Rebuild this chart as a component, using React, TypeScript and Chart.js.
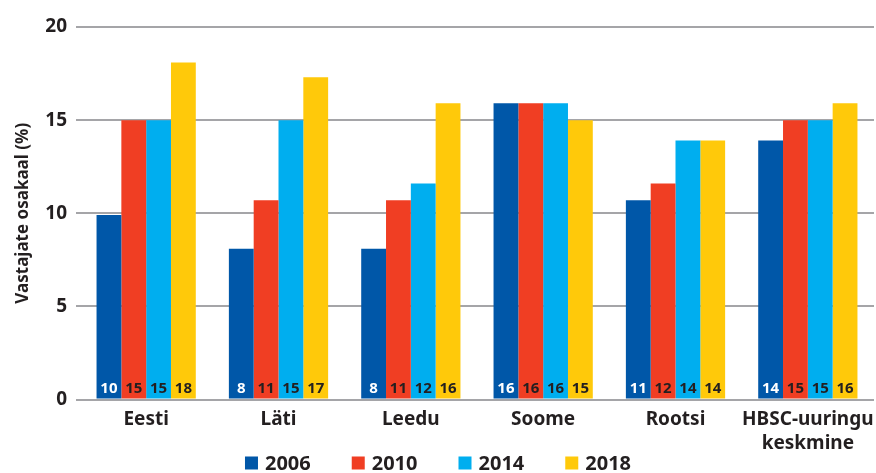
import React, { useEffect, useRef } from "react";
import { Chart, registerables } from "chart.js";

Chart.register(...registerables);

const categories: (string | string[])[] = ["Eesti", "Läti", "Leedu", "Soome", "Rootsi", ["HBSC-uuringu", "keskmine"]];
const seriesNames = ["2006", "2010", "2014", "2018"];
const values2006 = [9.9, 8.1, 8.1, 15.9, 10.7, 13.9];
const values2010 = [15, 10.7, 10.7, 15.9, 11.6, 15];
const values2014 = [15, 15, 11.6, 15.9, 13.9, 15];
const values2018 = [18.1, 17.3, 15.9, 15, 13.9, 15.9];
const labels2006 = [10, 8, 8, 16, 11, 14];
const labels2010 = [15, 11, 11, 16, 12, 15];
const labels2014 = [15, 15, 12, 16, 14, 15];
const labels2018 = [18, 17, 16, 15, 14, 16];
const colors = ["#0057A8", "#F03E23", "#00AEEF", "#FFC90A"];
const yTitle = "Vastajate osakaal (%)";

const FONT = "'Noto Sans', sans-serif";
const TEXT = "#231F20";

const barLabels = {
  id: "barLabels",
  afterDatasetsDraw(chart: any) {
    const ctx = chart.ctx;
    const allLabels = [labels2006, labels2010, labels2014, labels2018];
    ctx.save();
    ctx.font = `bold 15px ${FONT}`;
    ctx.textAlign = "center";
    ctx.textBaseline = "middle";
    chart.data.datasets.forEach((ds: any, i: number) => {
      const meta = chart.getDatasetMeta(i);
      ctx.fillStyle = i === 0 ? "#FFFFFF" : TEXT;
      meta.data.forEach((bar: any, j: number) => {
        ctx.fillText(String(allLabels[i][j]), bar.x, chart.chartArea.bottom - 11);
      });
    });
    ctx.restore();
  },
};

const bottomLegend = {
  id: "bottomLegend",
  afterDraw(chart: any) {
    const ctx = chart.ctx;
    ctx.save();
    ctx.font = `bold 20px ${FONT}`;
    ctx.textBaseline = "middle";
    const box = 13;
    const gapBox = 7;
    const gapItem = 41;
    const widths = chart.data.datasets.map((ds: any) => box + gapBox + ctx.measureText(ds.label).width);
    const total = widths.reduce((a: number, b: number) => a + b, 0) + gapItem * (widths.length - 1);
    let x = (chart.width - total) / 2;
    const yc = chart.height - 10;
    chart.data.datasets.forEach((ds: any, i: number) => {
      ctx.fillStyle = ds.backgroundColor;
      ctx.fillRect(x, yc - box / 2, box, box);
      ctx.fillStyle = TEXT;
      ctx.textAlign = "left";
      ctx.fillText(ds.label, x + box + gapBox, yc + 1);
      x += widths[i] + gapItem;
    });
    ctx.restore();
  },
};

export default function App() {
  const ref = useRef<HTMLCanvasElement | null>(null);
  useEffect(() => {
    if (!ref.current) return;
    const data = [values2006, values2010, values2014, values2018];
    const chart = new Chart(ref.current, {
      type: "bar",
      data: {
        labels: categories,
        datasets: seriesNames.map((n, i) => ({
          label: n,
          data: data[i],
          backgroundColor: colors[i],
          borderWidth: 0,
          categoryPercentage: 0.75,
          barPercentage: 1.0,
        })),
      },
      options: {
        animation: false,
        responsive: true,
        maintainAspectRatio: false,
        layout: { padding: { top: 27, right: 2, left: 0, bottom: 10 } },
        plugins: {
          tooltip: { enabled: false },
          legend: { display: false },
        },
        scales: {
          x: {
            grid: { display: false, drawTicks: false },
            border: { display: false },
            afterFit: (scale: any) => {
              scale.paddingRight = 0;
              scale.paddingLeft = 0;
            },
            ticks: {
              color: TEXT,
              padding: 8,
              font: { family: FONT, size: 19, weight: "bold", lineHeight: 1.25 },
              maxRotation: 0,
              autoSkip: false,
            },
          },
          y: {
            min: 0,
            max: 20,
            afterFit: (scale: any) => {
              scale.width = 80;
            },
            ticks: {
              stepSize: 5,
              color: TEXT,
              padding: 9,
              font: { family: FONT, size: 19, weight: "bold" },
            },
            grid: { color: "#A5A5A8", lineWidth: 2, tickLength: 4, drawTicks: true },
            border: { display: false },
            title: {
              display: true,
              text: yTitle,
              color: TEXT,
              padding: { top: 13, bottom: 0 },
              font: { family: FONT, size: 17, weight: "bold" },
            },
          },
        },
      },
      plugins: [barLabels, bottomLegend],
    });
    return () => chart.destroy();
  }, []);
  return (
    <div style={{ position: "fixed", left: 0, top: 0, width: 876, height: 473, background: "#fff" }}>
      <canvas ref={ref} />
    </div>
  );
}
